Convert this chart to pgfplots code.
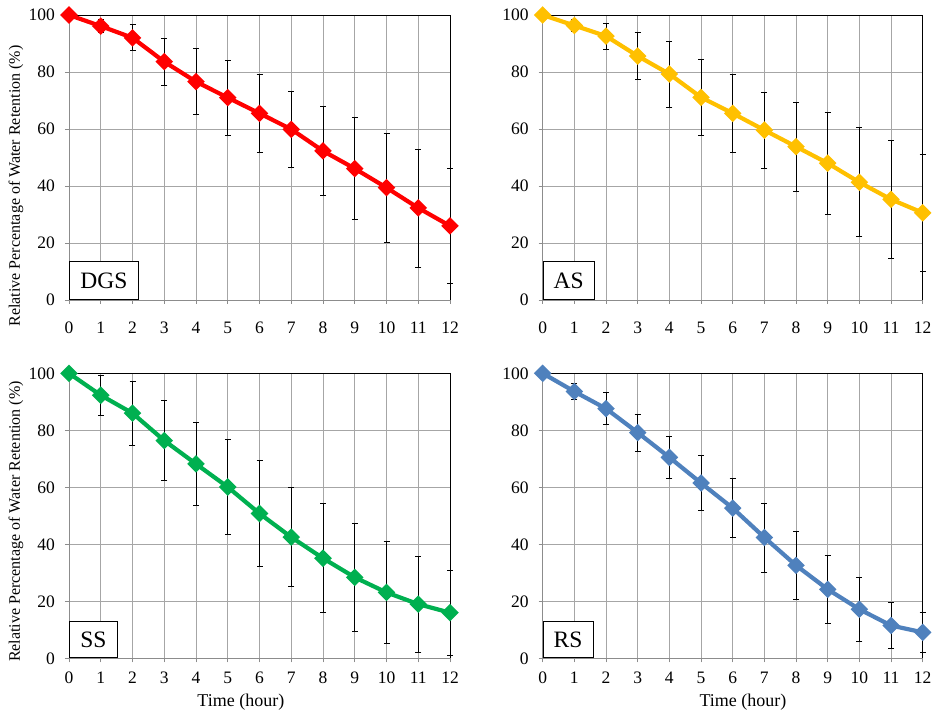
\documentclass[border=0pt]{standalone}
\usepackage{fontspec}
\setmainfont{Liberation Serif}
\usepackage{pgfplots}
\usepackage{pgfplotstable}
\pgfplotsset{compat=1.18}

\definecolor{cDGS}{HTML}{FF0000}
\definecolor{cAS}{HTML}{FFC000}
\definecolor{cSS}{HTML}{00B050}
\definecolor{cRS}{HTML}{4F81BD}
\definecolor{gridgray}{HTML}{A6A6A6}
\definecolor{axisgray}{HTML}{8C8C8C}

% time (h), mean retention (%), standard deviation
\pgfplotstableread{
x y e
0 100 0
1 96.1 2.2
2 92.0 4.6
3 83.6 8.3
4 76.6 11.6
5 71.0 13.1
6 65.5 13.7
7 59.9 13.4
8 52.3 15.6
9 46.1 17.9
10 39.4 19.2
11 32.3 20.7
12 26.0 20.3
}\dataDGS
\pgfplotstableread{
x y e
0 100 0
1 96.3 2.1
2 92.6 4.5
3 85.6 8.2
4 79.3 11.6
5 71.1 13.3
6 65.5 13.7
7 59.6 13.3
8 53.8 15.6
9 48.0 17.9
10 41.3 19.1
11 35.3 20.6
12 30.6 20.4
}\dataAS
\pgfplotstableread{
x y e
0 100 0
1 92.3 6.9
2 86.0 11.3
3 76.4 14.0
4 68.2 14.6
5 60.1 16.7
6 50.8 18.7
7 42.5 17.4
8 35.1 19.1
9 28.4 19.0
10 23.1 17.8
11 19.0 16.9
12 16.0 14.9
}\dataSS
\pgfplotstableread{
x y e
0 100 0
1 93.6 2.8
2 87.6 5.6
3 79.2 6.5
4 70.5 7.3
5 61.5 9.6
6 52.7 10.3
7 42.4 12.1
8 32.6 12.0
9 24.2 11.9
10 17.2 11.3
11 11.5 8.0
12 9.1 6.9
}\dataRS

\tikzset{
  tag/.style={draw=black, fill=white, line width=0.8pt, inner sep=0pt,
    anchor=south west, font=\fontsize{23.5}{26}\selectfont},
}

\pgfplotsset{
  panel/.style={
    scale only axis, width=380pt, height=285pt,
    xmin=0, xmax=12, ymin=0, ymax=100,
    xtick={0,...,12}, ytick={0,20,...,100},
    grid=major, major grid style={gridgray, line width=0.7pt},
    axis line style={axisgray, line width=0.8pt},
    tick style={axisgray, line width=0.8pt},
    tick align=outside, major tick length=4pt,
    tick pos=left,
    clip=false,
    /pgf/number format/assume math mode=true,
    ticklabel style={font=\fontsize{17.5}{20}\selectfont, text=black},
    yticklabel style={anchor=east, inner sep=0pt, xshift=-10pt},
    label style={font=\fontsize{16}{19}\selectfont},
    xlabel style={font=\fontsize{18}{21}\selectfont, anchor=center},
    ylabel style={anchor=center},
  },
  toprow/.style={xticklabel style={anchor=north, inner sep=0pt, yshift=-18pt}},
  botrow/.style={xticklabel style={anchor=north, inner sep=0pt, yshift=-9.5pt}},
  series/.style={color=#1, line width=4.2pt, mark=square*,
    mark size=4.1pt, mark options={rotate=45, solid}},
  errs/.style={draw=none, mark=none, forget plot,
    error bars/.cd, y dir=both, y explicit,
    error bar style={black, line width=0.8pt},
    error mark options={black, rotate=90, mark size=3pt, line width=0.8pt}},
}

\newcommand{\frameTR}{\draw[black, line width=0.8pt]
  (rel axis cs:0,1) -- (rel axis cs:1,1) -- (rel axis cs:1,0);}

\begin{document}
\begin{tikzpicture}
\useasboundingbox (0,0) rectangle (943pt,719pt);

% DGS
\begin{axis}[panel, toprow, at={(69pt,419pt)}, anchor=south west, width=381pt,
  ylabel={Relative Percentage of Water Retention (\%)},
  ylabel style={at={(axis description cs:-0.139,0.40)}}]
\frameTR
\addplot[errs] table[x=x, y=y, y error=e] {\dataDGS};
\addplot[series=cDGS] table[x=x, y=y] {\dataDGS};
\node[tag, minimum width=69pt, minimum height=38pt] at (rel axis cs:0,0) {DGS};
\end{axis}

% AS
\begin{axis}[panel, toprow, at={(542.7pt,419pt)}, anchor=south west]
\frameTR
\addplot[errs] table[x=x, y=y, y error=e] {\dataAS};
\addplot[series=cAS] table[x=x, y=y] {\dataAS};
\node[tag, minimum width=51pt, minimum height=38pt] at (rel axis cs:0,0) {AS};
\end{axis}

% SS
\begin{axis}[panel, botrow, at={(69pt,60.7pt)}, anchor=south west, width=381pt,
  ylabel={Relative Percentage of Water Retention (\%)},
  ylabel style={at={(axis description cs:-0.139,0.48)}},
  xlabel={Time (hour)},
  xlabel style={at={(axis description cs:0.451,-0.155)}}]
\frameTR
\addplot[errs] table[x=x, y=y, y error=e] {\dataSS};
\addplot[series=cSS] table[x=x, y=y] {\dataSS};
\node[tag, minimum width=48pt, minimum height=36pt] at (rel axis cs:0,0) {SS};
\end{axis}

% RS
\begin{axis}[panel, botrow, at={(542.7pt,60.7pt)}, anchor=south west,
  xlabel={Time (hour)},
  xlabel style={at={(axis description cs:0.527,-0.155)}}]
\frameTR
\addplot[errs] table[x=x, y=y, y error=e] {\dataRS};
\addplot[series=cRS] table[x=x, y=y] {\dataRS};
\node[tag, minimum width=50pt, minimum height=36pt] at (rel axis cs:0,0) {RS};
\end{axis}
\end{tikzpicture}
\end{document}
